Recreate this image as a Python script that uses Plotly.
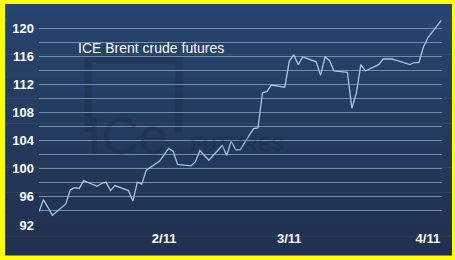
import plotly.graph_objects as go

# ---- data ----
dates = [
    "2011-01-04", "2011-01-05", "2011-01-07", "2011-01-10", "2011-01-11", "2011-01-12",
    "2011-01-13", "2011-01-14", "2011-01-17", "2011-01-18", "2011-01-19", "2011-01-20",
    "2011-01-21", "2011-01-24", "2011-01-25", "2011-01-26", "2011-01-27", "2011-01-28",
    "2011-01-31", "2011-02-01", "2011-02-02", "2011-02-03", "2011-02-04", "2011-02-07",
    "2011-02-08", "2011-02-09", "2011-02-10", "2011-02-11", "2011-02-14", "2011-02-15",
    "2011-02-16", "2011-02-17", "2011-02-18", "2011-02-21", "2011-02-22", "2011-02-23",
    "2011-02-24", "2011-02-25", "2011-02-28", "2011-03-01", "2011-03-02", "2011-03-03",
    "2011-03-04", "2011-03-07", "2011-03-08", "2011-03-09", "2011-03-10", "2011-03-11",
    "2011-03-14", "2011-03-15", "2011-03-16", "2011-03-17", "2011-03-18", "2011-03-21",
    "2011-03-22", "2011-03-23", "2011-03-24", "2011-03-25", "2011-03-28", "2011-03-29",
    "2011-03-30", "2011-03-31", "2011-04-01", "2011-04-04",
]
brent = [
    93.9, 95.6, 93.4, 95.0, 97.0, 97.3,
    97.2, 98.3, 97.5, 97.9, 98.1, 96.9,
    97.6, 96.9, 95.4, 98.1, 97.8, 99.8,
    101.1, 102.0, 102.9, 102.5, 100.6, 100.4,
    101.0, 102.6, 101.9, 101.2, 103.3, 101.9,
    103.9, 102.7, 102.7, 105.7, 105.8, 110.8,
    111.0, 111.9, 111.6, 115.3, 116.2, 114.8,
    115.9, 115.2, 113.3, 115.9, 115.4, 113.9,
    113.7, 108.6, 110.7, 114.8, 113.9, 114.8,
    115.6, 115.6, 115.6, 115.4, 114.8, 115.1,
    115.1, 117.3, 118.6, 121.1,
]
x_tick_vals = ["2011-02-01", "2011-03-01", "2011-04-01"]
x_tick_text = ["2/11", "3/11", "4/11"]
y_grid_vals = list(range(92, 123, 2))
y_tick_text = [str(v) if v % 4 == 0 else "" for v in y_grid_vals]
title_text = "ICE Brent crude futures"

# ---- layout geometry ----
W, H = 455, 260
L, R, T, B = 37, 13, 14, 35
pw, ph = W - L - R, H - T - B


def px(x):
    return (x - L) / pw


def py(y):
    return (H - B - y) / ph


shapes = []
# gradient background bands
top_c = (39, 69, 110)
bot_c = (33, 48, 79)
y_top, y_bot = 4, 255
n = 40
for i in range(n):
    f = (i + 0.5) / n
    c = tuple(round(top_c[k] + (bot_c[k] - top_c[k]) * f) for k in range(3))
    ya = y_top + (y_bot - y_top) * i / n
    yb = y_top + (y_bot - y_top) * (i + 1) / n + 0.6
    shapes.append(dict(type="rect", xref="paper", yref="paper", layer="below",
                       x0=px(3), x1=px(452), y0=py(yb), y1=py(ya),
                       fillcolor="rgb(%d,%d,%d)" % c, line=dict(width=0)))

# faint watermark frame
wm = "rgba(18,34,60,0.25)"
path = "M %f,%f L %f,%f L %f,%f L %f,%f" % (
    px(86.5), py(132), px(86.5), py(59.5), px(177.5), py(59.5), px(177.5), py(132))
shapes.append(dict(type="path", xref="paper", yref="paper", layer="below",
                   path=path, line=dict(color=wm, width=7)))

fig = go.Figure()
fig.add_trace(go.Scatter(
    x=dates, y=brent, mode="lines",
    line=dict(color="#a9c4e2", width=1.3),
    hoverinfo="skip", showlegend=False,
))

annotations = [
    dict(text="ICe", xref="paper", yref="paper", x=px(83), y=py(167),
         xanchor="left", yanchor="bottom", showarrow=False,
         font=dict(family="Liberation Sans, Arial", size=52, color="rgba(18,34,60,0.22)")),
    dict(text="<b>FUTURES</b>", xref="paper", yref="paper", x=px(187), y=py(157),
         xanchor="left", yanchor="bottom", showarrow=False,
         font=dict(family="Liberation Sans, Arial", size=20, color="rgba(18,34,60,0.22)")),
    dict(text=title_text, xref="paper", yref="paper", x=px(74), y=py(48),
         xanchor="left", yanchor="middle", showarrow=False,
         font=dict(family="Liberation Sans, Arial", size=14, color="white")),
]

fig.update_layout(
    width=W, height=H,
    margin=dict(l=L, r=R, t=T, b=B, pad=0),
    paper_bgcolor="#ffff00",
    plot_bgcolor="rgba(0,0,0,0)",
    shapes=shapes,
    annotations=annotations,
    xaxis=dict(
        type="date", range=["2011-01-04", "2011-04-04 04:00"],
        tickvals=x_tick_vals, ticktext=x_tick_text,
        showgrid=False, zeroline=False, showline=False, ticks="",
        ticklabelstandoff=4,
        tickfont=dict(family="Liberation Sans, Arial", size=13, color="white", weight="bold"),
    ),
    yaxis=dict(
        range=[92, 122], tickvals=y_grid_vals, ticktext=y_tick_text,
        showgrid=True, gridcolor="#6f8db3", gridwidth=1,
        zeroline=False, showline=False, ticks="",
        ticklabelstandoff=4,
        tickfont=dict(family="Liberation Sans, Arial", size=13, color="white", weight="bold"),
    ),
)

fig.write_html("out.html")
